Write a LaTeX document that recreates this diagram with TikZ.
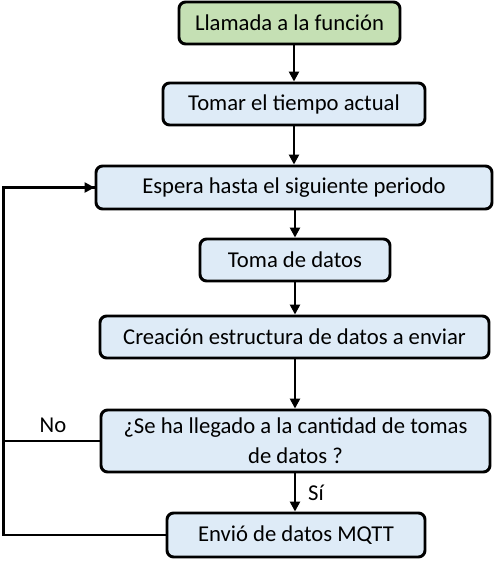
\documentclass[tikz,border=0pt]{standalone}
\usepackage{fontspec}
\setmainfont{Carlito}
\usetikzlibrary{arrows.meta}
\definecolor{boxblue}{HTML}{DEEBF7}
\definecolor{boxgreen}{HTML}{C5E0B4}
\begin{document}
\begin{tikzpicture}[x=0.75pt,y=-0.75pt,
  box/.style={draw=black, line width=2.2pt, rounded corners=5pt, fill=boxblue,
    inner sep=0pt, align=center, font=\fontsize{17}{22.5}\selectfont},
  arr/.style={line width=1.8pt, -{Triangle[length=7.5pt,width=7.5pt]}},
  lbl/.style={font=\fontsize{17}{20}\selectfont, inner sep=0pt}]
\useasboundingbox (0,0) rectangle (495,562);
\node[box, fill=boxgreen, minimum width={221*0.75pt}, minimum height={42*0.75pt}] (b1) at (289.5,23) {Llamada a la función};
\node[box, minimum width={262*0.75pt}, minimum height={42*0.75pt}] (b2) at (294,104) {Tomar el tiempo actual};
\node[box, minimum width={396*0.75pt}, minimum height={43*0.75pt}] (b3) at (294,187.5) {Espera hasta el siguiente periodo};
\node[box, minimum width={190*0.75pt}, minimum height={42*0.75pt}] (b4) at (295,260) {Toma de datos};
\node[box, minimum width={389*0.75pt}, minimum height={42*0.75pt}] (b5) at (294.5,337) {Creación estructura de datos a enviar};
\node[box, minimum width={389*0.75pt}, minimum height={62*0.75pt}] (b6) at (295.5,441) {¿Se ha llegado a la cantidad de tomas\\ de datos ?};
\node[box, minimum width={258*0.75pt}, minimum height={44*0.75pt}] (b7) at (296,535) {Envió de datos MQTT};
\coordinate (c1) at (3.5,535);
\coordinate (c2) at (3.5,187.5);
\coordinate (c3) at (3.5,441);
\draw[arr] (b1.south -| 294,0) -- (b2.north -| 294,0);
\draw[arr] (b2.south -| 294,0) -- (b3.north -| 294,0);
\draw[arr] (b3.south -| 295,0) -- (b4.north -| 295,0);
\draw[arr] (b4.south -| 295,0) -- (b5.north -| 295,0);
\draw[arr] (b5.south -| 295,0) -- (b6.north -| 295,0);
\draw[arr] (b6.south -| 295,0) -- (b7.north -| 295,0) node[lbl, midway, right=9pt] (si) {Sí};
\draw[line width=1.8pt, line join=miter] (b7.west) -- (c1) -- (c2) -- (b3.west);
\draw[arr] (c2) -- (b3.west);
\draw[line width=1.2pt] (b6.west) -- (c3);
\node[lbl] (no) at (53,425) {No};
\end{tikzpicture}
\end{document}
